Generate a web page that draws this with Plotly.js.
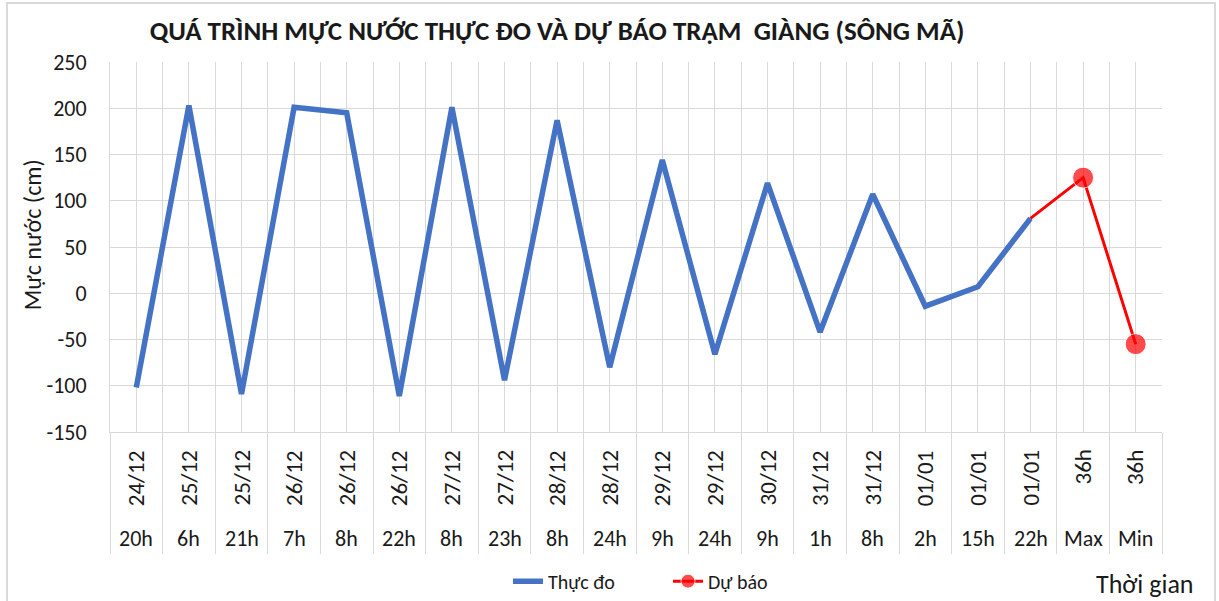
<!DOCTYPE html>
<html><head><meta charset="utf-8">
<script src="https://cdn.plot.ly/plotly-3.0.1.min.js"></script>
<style>html,body{margin:0;padding:0;background:#fff}#chart{width:1219px;height:601px}</style>
</head><body><div id="chart"></div>
<script>
const dates = ["24/12","25/12","25/12","26/12","26/12","26/12","27/12","27/12","28/12","28/12","29/12","29/12","30/12","31/12","31/12","01/01","01/01","01/01","36h","36h"];
const hours = ["20h","6h","21h","7h","8h","22h","8h","23h","8h","24h","9h","24h","9h","1h","8h","2h","15h","22h","Max","Min"];
const observed = [-102,203,-109,201,195,-111,201,-94,187,-80,144,-66,119,-42,107,-14,7,81,null,null];
const forecast = [null,null,null,null,null,null,null,null,null,null,null,null,null,null,null,null,null,81,125,-55];
const yTicks = [-150,-100,-50,0,50,100,150,200,250];

const idx = hours.map((_, i) => i);
const fIdx = idx.filter(i => forecast[i] !== null);
const fVal = fIdx.map(i => forecast[i]);
const fSize = fIdx.map((i, k) => (k === 0 ? 0 : 21));

const FONT = "Calibri, Carlito, 'Liberation Sans', Arial, sans-serif";
const TXT = "#1a1a1a";
const GRID = "#d9d9d9";

const traces = [
  {x: idx, y: observed, type: "scatter", mode: "lines", name: "Thực đo",
   line: {color: "#4472C4", width: 5.5}},
  {x: fIdx, y: fVal, type: "scatter", mode: "lines+markers", name: "Dự báo",
   line: {color: "#FF0000", width: 3},
   marker: {color: "#FF0000", size: fSize}}
];

const annotations = [];
dates.forEach((d, i) => annotations.push({
  x: i, xref: "x", y: -0.043, yref: "paper", text: d, showarrow: false,
  textangle: -90, xanchor: "center", yanchor: "top",
  font: {family: FONT, size: 23, color: TXT}
}));
hours.forEach((h, i) => annotations.push({
  x: i, xref: "x", y: -0.2865, yref: "paper", text: h, showarrow: false,
  xanchor: "center", yanchor: "middle",
  font: {family: FONT, size: 22, color: TXT}
}));
annotations.push({x: -0.0741, xref: "paper", y: 0.532, yref: "paper", text: "Mực nước (cm)",
  showarrow: false, textangle: -90, xanchor: "center", yanchor: "middle",
  font: {family: FONT, size: 24, color: TXT}});
annotations.push({x: 0.984, xref: "paper", y: -0.41, yref: "paper", text: "Thời gian",
  showarrow: false, xanchor: "center", yanchor: "middle",
  font: {family: FONT, size: 26, color: TXT}});

const layout = {
  width: 1219, height: 601,
  margin: {l: 110, r: 57, t: 62, b: 169, autoexpand: false},
  paper_bgcolor: "#fff", plot_bgcolor: "#fff",
  font: {family: FONT, color: TXT},
  title: {text: "<b>QUÁ TRÌNH MỰC NƯỚC THỰC ĐO VÀ DỰ BÁO TRẠM  GIÀNG (SÔNG MÃ)</b>",
    x: 0.457, xanchor: "center", y: 0.95, yanchor: "middle",
    font: {family: FONT, size: 27, color: TXT}},
  xaxis: {range: [-0.5, hours.length - 0.5], tick0: -0.5, dtick: 1,
    showticklabels: false, ticks: "outside", ticklen: 121, tickcolor: GRID, tickwidth: 1,
    showgrid: true, gridcolor: GRID, gridwidth: 1,
    minor: {dtick: 0.5, tick0: -0.5, showgrid: true, gridcolor: GRID, gridwidth: 1, ticks: ""},
    showline: true, linecolor: GRID, linewidth: 1, zeroline: false, fixedrange: true},
  yaxis: {range: [-150, 250], tickvals: yTicks, ticktext: yTicks.map(String),
    showgrid: true, gridcolor: GRID, gridwidth: 1, zeroline: false,
    showline: true, linecolor: GRID, linewidth: 1, ticks: "", ticklabelstandoff: 18,
    tickfont: {family: FONT, size: 22, color: TXT}, fixedrange: true},
  showlegend: true,
  legend: {orientation: "h", xref: "container", yref: "container", x: 0.548, xanchor: "center",
    y: 0.033, yanchor: "middle", tracegroupgap: 0, itemwidth: 30, entrywidth: 115,
    font: {family: FONT, size: 20, color: TXT}, bgcolor: "rgba(0,0,0,0)"},
  annotations: annotations,
  shapes: [{type: "rect", xref: "paper", yref: "paper",
    x0: -0.0979, x1: 1.0504, y0: -0.4676, y1: 1.1595,
    line: {color: GRID, width: 2}, fillcolor: "rgba(0,0,0,0)", layer: "below"}]
};

Plotly.newPlot("chart", traces, layout, {displayModeBar: false, staticPlot: true});
</script>
</body></html>
